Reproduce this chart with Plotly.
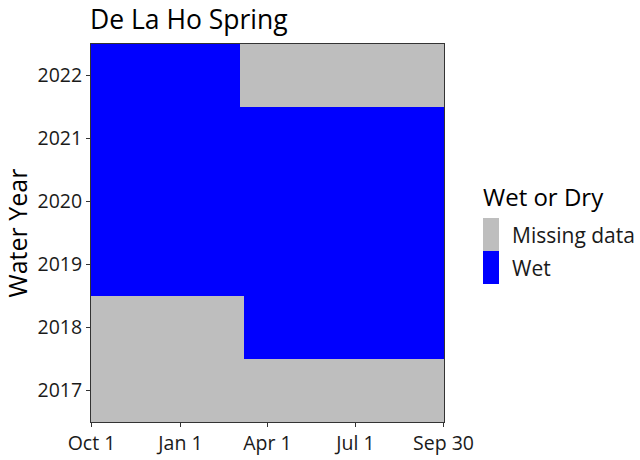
import pandas as pd
import numpy as np
import plotly.graph_objects as go

# ---- data ----
years = [2017, 2018, 2019, 2020, 2021, 2022]
seg_year = [2017, 2018, 2018, 2019, 2020, 2021, 2022, 2022]
seg_start = ["2016-10-01", "2017-10-01", "2018-03-08", "2018-10-01",
             "2019-10-01", "2020-10-01", "2021-10-01", "2022-03-04"]
seg_end = ["2017-09-30", "2018-03-07", "2018-09-30", "2019-09-30",
           "2020-09-30", "2021-09-30", "2022-03-03", "2022-09-30"]
seg_status = ["Missing data", "Missing data", "Wet", "Wet",
              "Wet", "Wet", "Wet", "Missing data"]
status_levels = ["Missing data", "Wet"]
status_colors = ["#BEBEBE", "#0000FF"]
tick_labels = ["Oct 1", "Jan 1", "Apr 1", "Jul 1", "Sep 30"]
tick_days = [0, 92, 182, 273, 364]

n_days = 365
z = np.full((len(years), n_days), np.nan)
for yr, s, e, st in zip(seg_year, seg_start, seg_end, seg_status):
    wy_start = pd.Timestamp(f"{yr - 1}-10-01")
    d0 = (pd.Timestamp(s) - wy_start).days
    d1 = min((pd.Timestamp(e) - wy_start).days, n_days - 1)
    z[years.index(yr), d0:d1 + 1] = status_levels.index(st)

fig = go.Figure()
fig.add_trace(go.Heatmap(
    z=z, x=list(range(n_days)), y=years,
    colorscale=[[0, status_colors[0]], [0.5, status_colors[0]],
                [0.5, status_colors[1]], [1, status_colors[1]]],
    zmin=0, zmax=1, showscale=False,
    hovertemplate="Day %{x}<br>%{y}<extra></extra>",
))

W, H = 640, 460
font_family = "Open Sans, Noto Sans, sans-serif"
fig.update_layout(
    width=W, height=H,
    margin=dict(l=91, r=W - 444, t=44, b=H - 422),
    paper_bgcolor="white", plot_bgcolor="white",
    font=dict(family=font_family, color="#1a1a1a"),
    title=dict(text="De La Ho Spring", x=90 / W, xanchor="left",
               y=1 - 19.5 / H, yanchor="middle",
               font=dict(size=26.5, color="black")),
    showlegend=False,
)
fig.update_xaxes(
    range=[-0.5, n_days - 0.5], tickvals=tick_days, ticktext=tick_labels,
    ticks="outside", ticklen=4, tickcolor="#333333",
    tickfont=dict(size=19.5, color="#1a1a1a"),
    showline=True, mirror=True, linecolor="#333333", linewidth=1,
    showgrid=False, zeroline=False, automargin=False,
)
fig.update_yaxes(
    range=[2016.5, 2022.5], tickvals=years, ticktext=[str(y) for y in years],
    ticks="outside", ticklen=4, tickcolor="#333333",
    tickfont=dict(size=19.5, color="#1a1a1a"),
    showline=True, mirror=True, linecolor="#333333", linewidth=1,
    showgrid=False, zeroline=False, automargin=False,
    title=dict(text="Water Year", font=dict(size=25, color="black"), standoff=12),
)

# manual legend (ggplot-style tall keys), positions in reference pixels
px2x = lambda px: (px - 91) / (444 - 91)
px2y = lambda py: (422 - py) / (422 - 44)
fig.add_annotation(text="Wet or Dry", x=px2x(481), y=px2y(196), xref="paper", yref="paper",
                   xanchor="left", yanchor="middle", showarrow=False,
                   font=dict(size=24, color="black"))
key_tops = [218, 251]
for lvl, col, top in zip(status_levels, status_colors, key_tops):
    fig.add_shape(type="rect", xref="paper", yref="paper",
                  x0=px2x(483), x1=px2x(499), y0=px2y(top + 33), y1=px2y(top),
                  fillcolor=col, line=dict(width=0))
    fig.add_annotation(text=lvl, x=px2x(510), y=px2y(top + 16.5), xref="paper", yref="paper",
                       xanchor="left", yanchor="middle", showarrow=False,
                       font=dict(size=21, color="#1a1a1a"))

fig.write_html("out.html", config={"displayModeBar": False},
               post_script="document.body.style.margin='0px';")
